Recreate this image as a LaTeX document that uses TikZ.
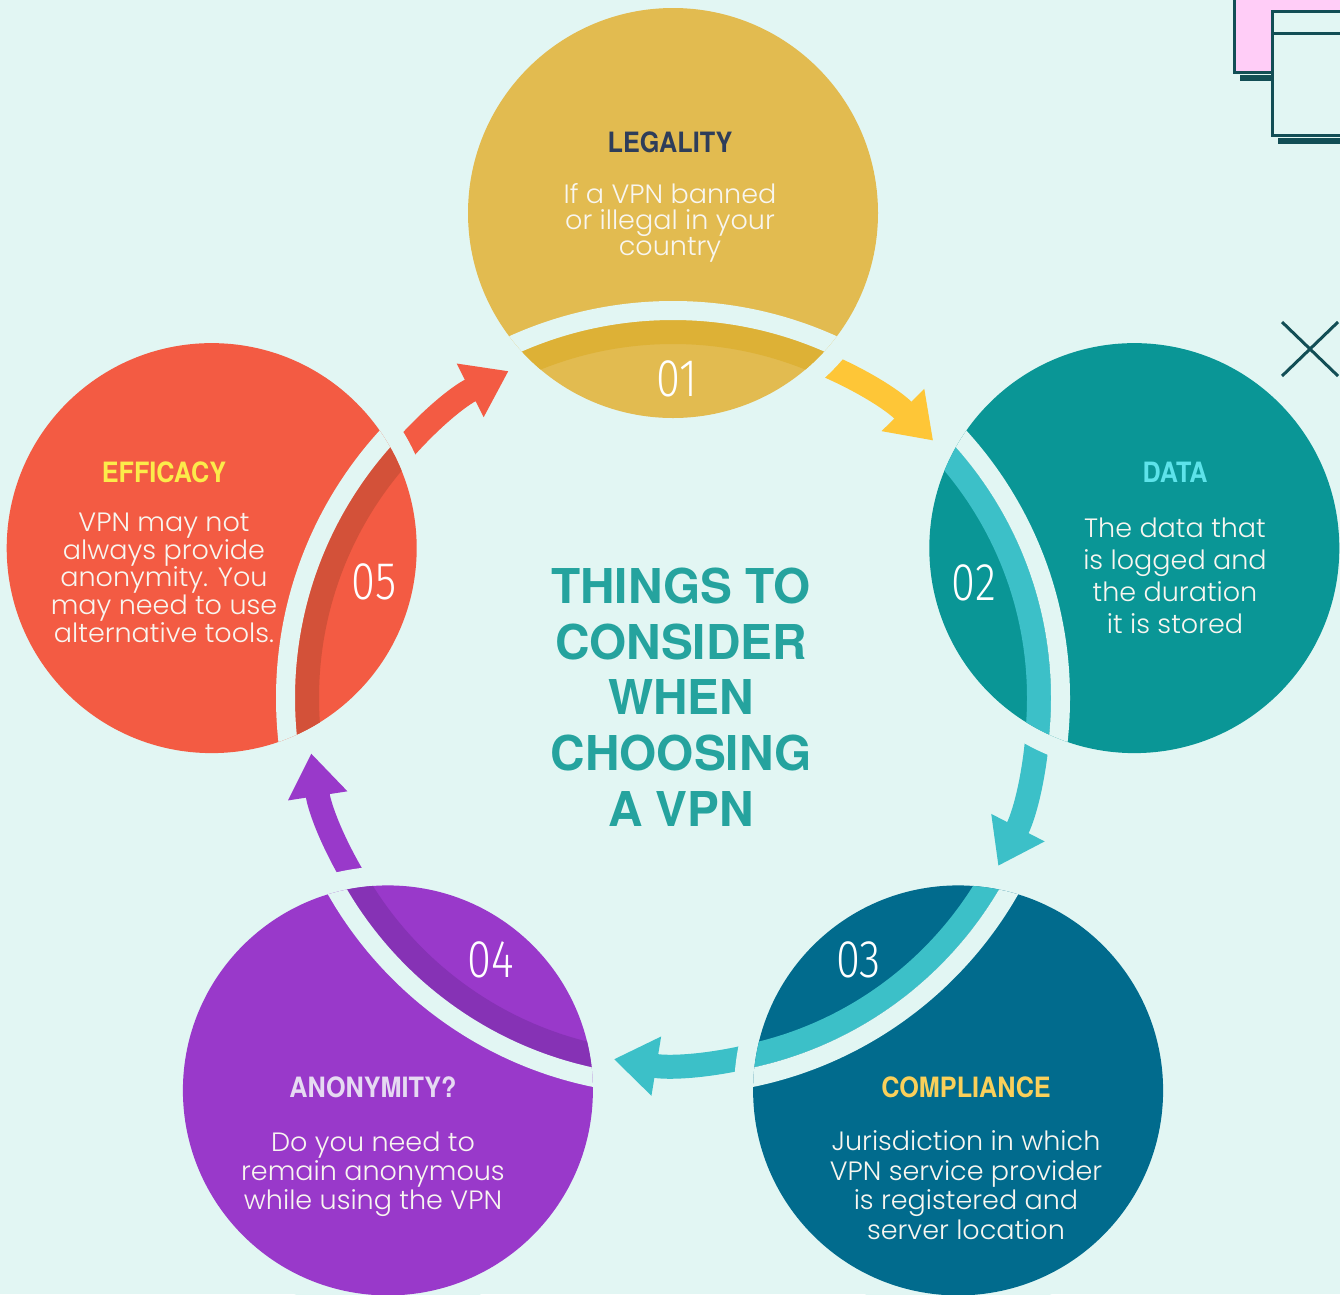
\documentclass[tikz,border=0pt]{standalone}
\usepackage{fontspec}
\usepackage{tikz}
\usetikzlibrary{positioning,arrows.meta}

\newfontfamily\bodyfont{Poppins Light}[FakeStretch=1.02]
\newfontfamily\headfont{TeX Gyre Heros}[FakeStretch=0.9]
\newfontfamily\titlefont{TeX Gyre Heros}[FakeStretch=0.995]
\newfontfamily\numfont{Fira Sans Light}[FakeStretch=0.82]

\definecolor{bgmint}{HTML}{E2F6F3}
\definecolor{legalyellow}{HTML}{E2BB50}
\definecolor{legalstrip}{HTML}{DDB136}
\definecolor{arrowyellow}{HTML}{FEC637}
\definecolor{datateal}{HTML}{0A9696}
\definecolor{ringcyan}{HTML}{3CC0C8}
\definecolor{complblue}{HTML}{016B8D}
\definecolor{anonpurple}{HTML}{9939CA}
\definecolor{anonstrip}{HTML}{8632B5}
\definecolor{effred}{HTML}{F35B43}
\definecolor{effstrip}{HTML}{D35139}
\definecolor{titleteal}{HTML}{25A39E}
\definecolor{decoteal}{HTML}{124E55}
\definecolor{decopink}{HTML}{FFCDF7}
\definecolor{legalnavy}{HTML}{2E3D5A}
\definecolor{datacyan}{HTML}{5DE3EA}
\definecolor{complgold}{HTML}{FAD05A}
\definecolor{anonlilac}{HTML}{E6DAF2}
\definecolor{effyellow}{HTML}{FCEB4A}
\definecolor{bodywhite}{HTML}{F8F6F0}

\begin{document}
\begin{tikzpicture}[x=1pt,y=-1pt,
  heading/.style={font=\headfont\bfseries\fontsize{28}{28}\selectfont, inner sep=0pt},
  body/.style={font=\bodyfont\fontsize{26.5}{#1}\selectfont, text=bodywhite,
    align=center, inner sep=0pt},
  number/.style={font=\numfont\fontsize{53}{53}\selectfont, text=white, inner sep=0pt},
  ringarrow/.style={line width=24pt, -{Triangle[length=43pt,width=57pt]}},
  deco/.style={decoteal, line width=3pt}]
  \fill[bgmint] (0,0) rectangle (1340,1294);
  \useasboundingbox (0,0) rectangle (1340,1294);

  \coordinate (ring) at (673,698);
  \coordinate (c1) at (673,213);
  \coordinate (c2) at (1134.3,548.1);
  \coordinate (c3) at (958.1,1090.4);
  \coordinate (c4) at (387.9,1090.4);
  \coordinate (c5) at (211.7,548.1);

  % arrows round the ring
  \draw[ringarrow, arrowyellow] (ring) ++(-75:366) arc[start angle=-75, end angle=-44.7, radius=366];
  \draw[ringarrow, ringcyan] (ring) ++(-3:366) arc[start angle=-3, end angle=27.3, radius=366];
  \draw[ringarrow, ringcyan] (ring) ++(69:366) arc[start angle=69, end angle=99.3, radius=366];
  \draw[ringarrow, anonpurple] (ring) ++(141:366) arc[start angle=141, end angle=171.3, radius=366];
  \draw[ringarrow, effred] (ring) ++(213:366) arc[start angle=213, end angle=243.3, radius=366];

  % 01 legality
  \fill[bgmint] (c1) circle[radius=224];
  \fill[legalyellow] (c1) circle[radius=205];
  \begin{scope}
    \clip (c1) circle[radius=205];
    \draw[legalstrip, line width=24pt] (ring) circle[radius=366];
    \draw[bgmint, line width=19pt] (ring) circle[radius=387.5];
  \end{scope}

  % 02 data
  \fill[bgmint] (c2) circle[radius=224];
  \fill[datateal] (c2) circle[radius=205];
  \begin{scope}
    \clip (c2) circle[radius=205];
    \draw[ringcyan, line width=24pt] (ring) circle[radius=366];
    \draw[bgmint, line width=19pt] (ring) circle[radius=387.5];
  \end{scope}

  % 03 compliance
  \fill[bgmint] (c3) circle[radius=224];
  \fill[complblue] (c3) circle[radius=205];
  \begin{scope}
    \clip (c3) circle[radius=205];
    \draw[ringcyan, line width=24pt] (ring) circle[radius=366];
    \draw[bgmint, line width=19pt] (ring) circle[radius=387.5];
  \end{scope}

  % 04 anonymity
  \fill[bgmint] (c4) circle[radius=224];
  \fill[anonpurple] (c4) circle[radius=205];
  \begin{scope}
    \clip (c4) circle[radius=205];
    \draw[anonstrip, line width=24pt] (ring) circle[radius=366];
    \draw[bgmint, line width=19pt] (ring) circle[radius=387.5];
  \end{scope}

  % 05 efficacy
  \fill[bgmint] (c5) circle[radius=224];
  \fill[effred] (c5) circle[radius=205];
  \begin{scope}
    \clip (c5) circle[radius=205];
    \draw[effstrip, line width=24pt] (ring) circle[radius=366];
    \draw[bgmint, line width=19pt] (ring) circle[radius=387.5];
  \end{scope}

  % texts
  \node (title) [font=\titlefont\bfseries\fontsize{48}{55.7}\selectfont, text=titleteal,
    align=center, inner sep=0pt] at (681,697)
    {THINGS TO\\CONSIDER\\WHEN\\CHOOSING\\A VPN};

  \node (legality) [heading, text=legalnavy] at (670,142) {LEGALITY};
  \node (legalitytext) [body=26, below=30pt of legality]
    {If a VPN banned\\or illegal in your\\country};
  \node (num1) [number] at (677,378.5) {01};

  \node (data) [heading, text=datacyan] at (1175,472.5) {DATA};
  \node (datatext) [body=32, below=35pt of data]
    {The data that\\is logged and\\the duration\\it is stored};
  \node (num2) [number] at (974,582.5) {02};

  \node (compliance) [heading, text=complgold] at (966,1087.5) {COMPLIANCE};
  \node (compliancetext) [body=29.7, below=32pt of compliance]
    {Jurisdiction in which\\VPN service provider\\is registered and\\server location};
  \node (num3) [number] at (858.5,960) {03};

  \node (anonymity) [heading, text=anonlilac] at (373,1087.5) {ANONYMITY?};
  \node (anonymitytext) [body=29, below=33pt of anonymity]
    {Do you need to\\remain anonymous\\while using the VPN};
  \node (num4) [number] at (491,960) {04};

  \node (efficacy) [heading, text=effyellow] at (164,472.5) {EFFICACY};
  \node (efficacytext) [body=26.3, below=29.5pt of efficacy]
    {VPN may not\\always provide\\anonymity. You\\may need to use\\alternative tools.};
  \node (num5) [number] at (374,582) {05};

  % corner decoration
  \fill[decoteal] (1240,75) rectangle (1290,81);
  \filldraw[deco, fill=decopink] (1234,-5) rectangle (1350,72);
  \fill[decoteal] (1278,138) rectangle (1345,144);
  \filldraw[deco, fill=bgmint] (1272.5,11.3) rectangle (1343,135.5);
  \draw[deco] (1272.5,33.2) -- (1343,33.2);
  \draw[deco] (1282,322) -- (1338,376);
  \draw[deco] (1338,322) -- (1282,376);
\end{tikzpicture}
\end{document}
